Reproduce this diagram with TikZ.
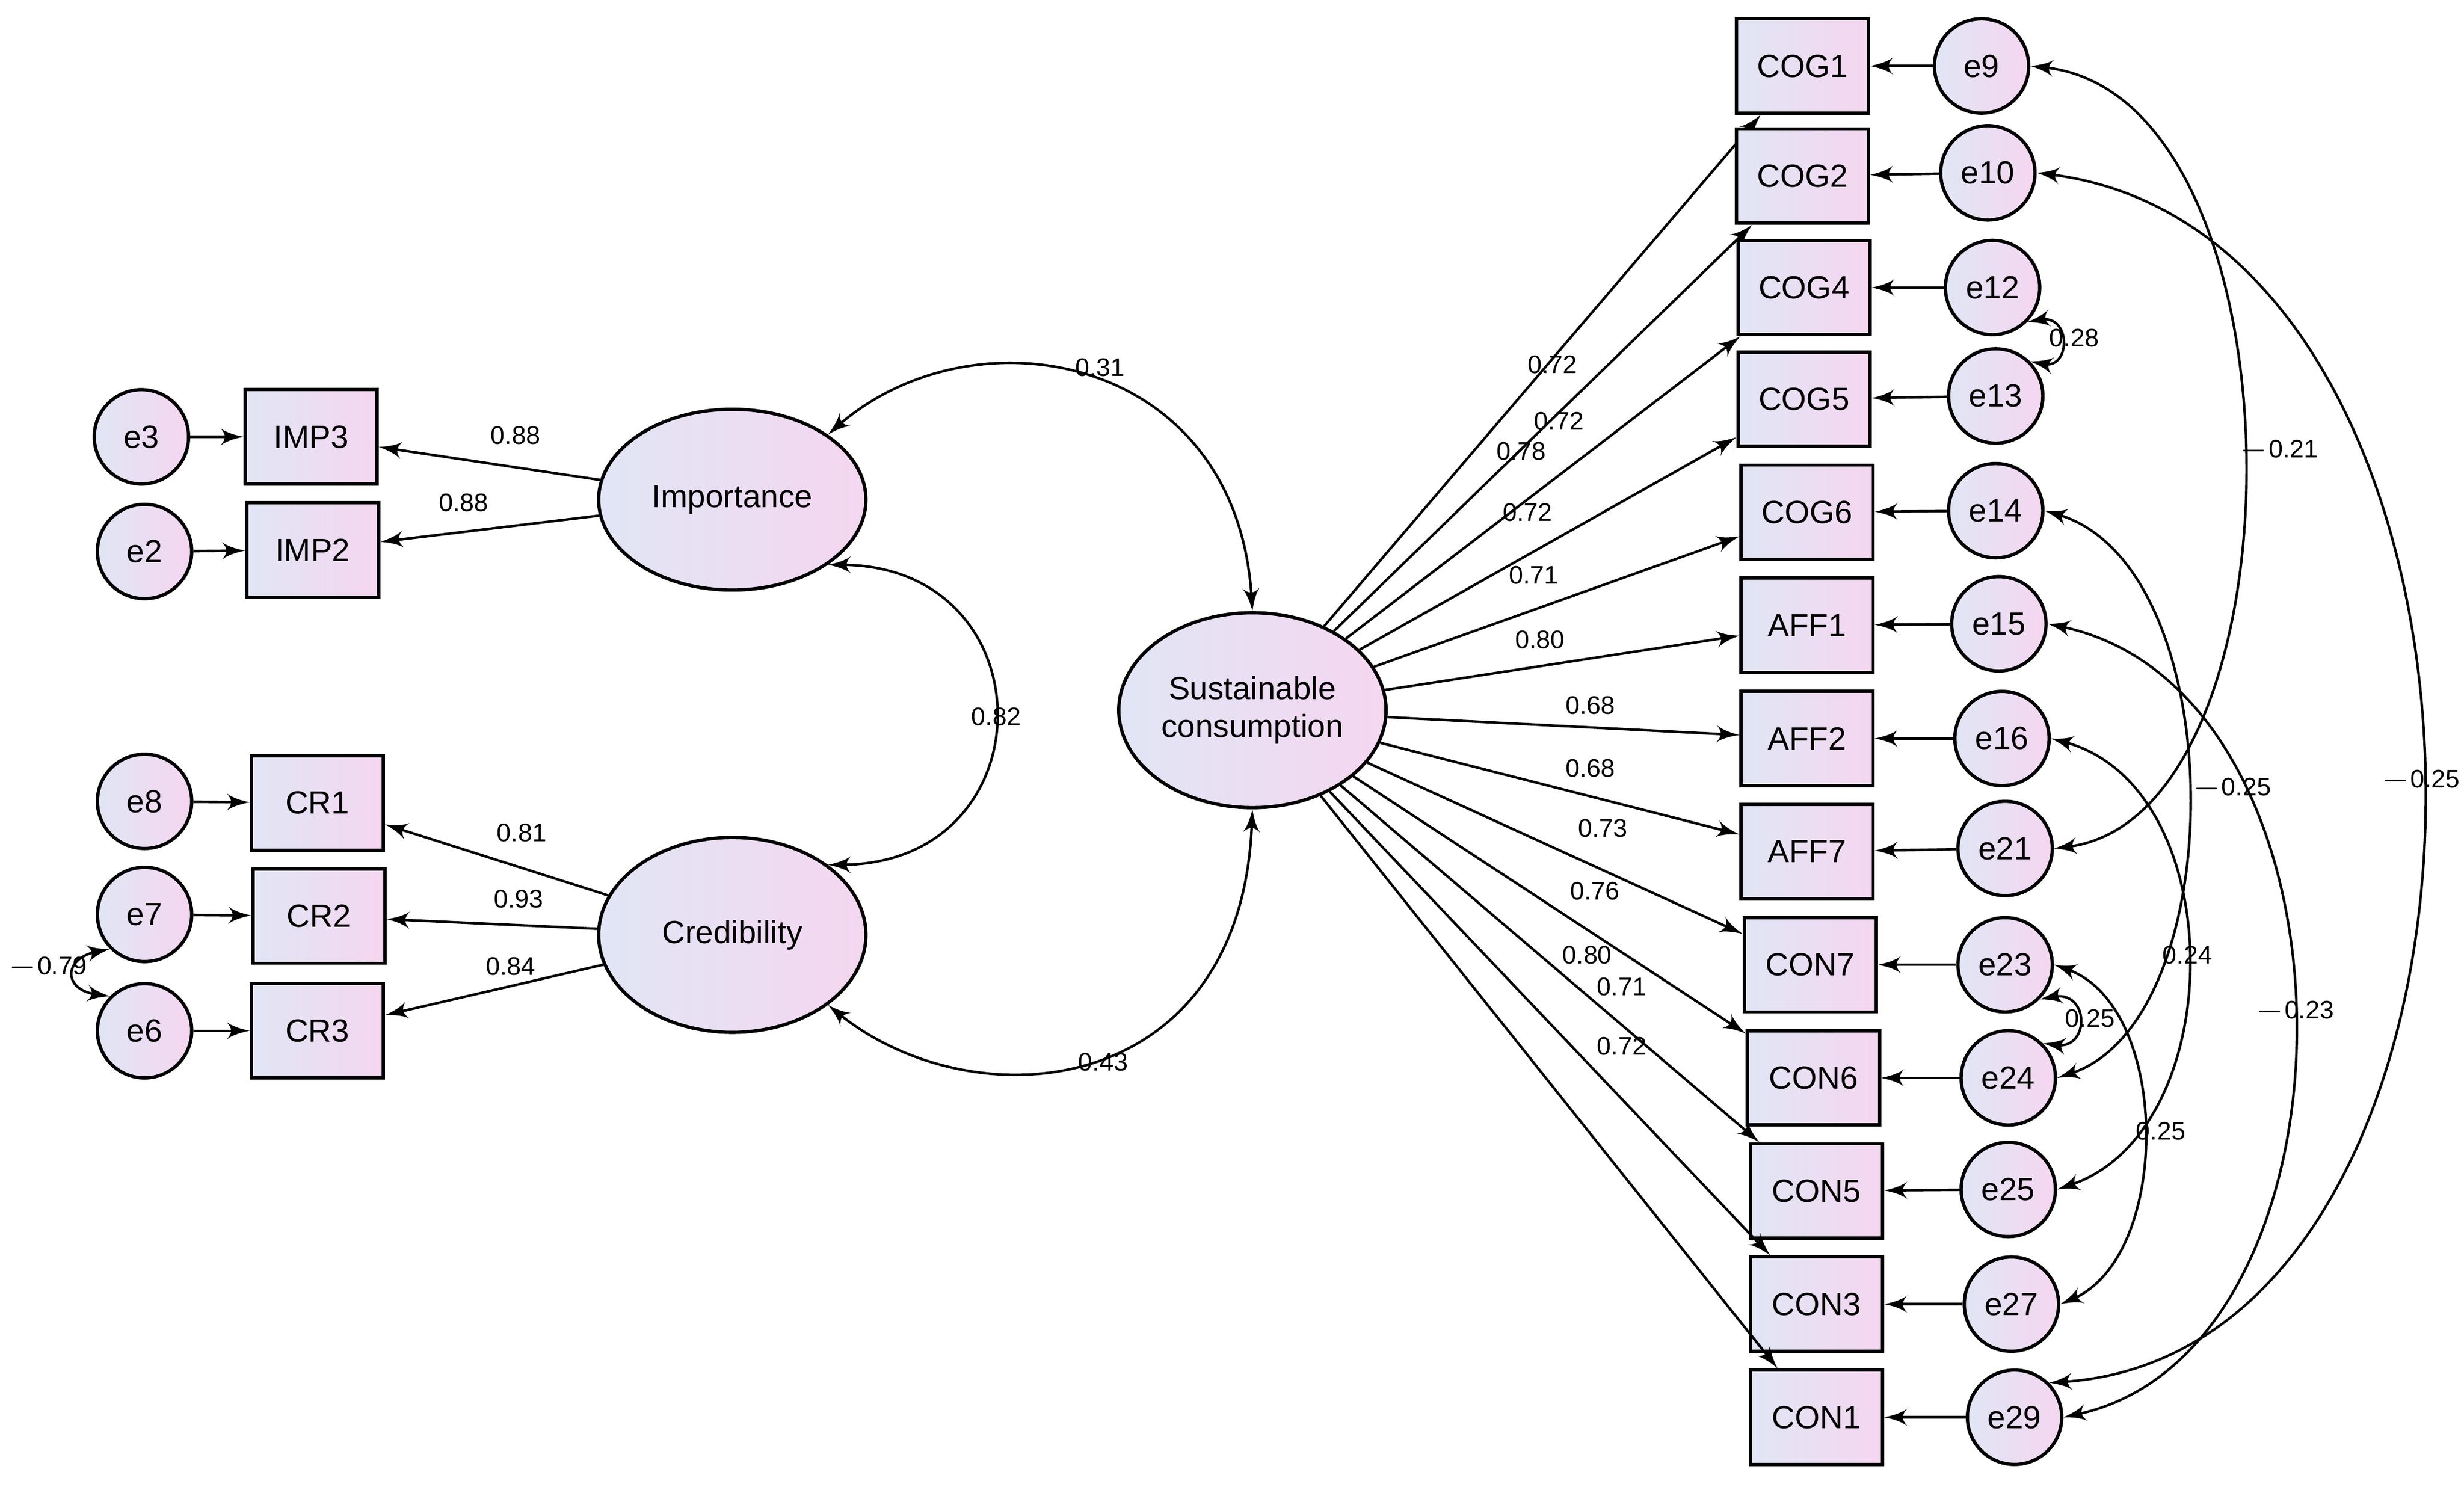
\documentclass[tikz,border=0pt]{standalone}
\usepackage{fontspec}
\setmainfont{Liberation Sans}
\usetikzlibrary{arrows,shapes.geometric}
\definecolor{leftc}{rgb}{0.88,0.90,0.96}
\definecolor{rightc}{rgb}{0.96,0.84,0.94}
\begin{document}
\begin{tikzpicture}[x=0.01cm,y=-0.01cm,>=latex',line width=0.45pt,
    obs/.style={rectangle,draw,line width=0.6pt,left color=leftc,right color=rightc,
      minimum width=0.84cm,minimum height=0.6cm,inner sep=0pt,font=\fontsize{5.8}{6}\selectfont},
    err/.style={circle,draw,line width=0.6pt,left color=leftc,right color=rightc,
      minimum width=0.54cm,minimum height=0.6cm,inner sep=0pt,font=\fontsize{5.8}{6}\selectfont},
    lat/.style={ellipse,draw,line width=0.6pt,left color=leftc,right color=rightc,
      minimum width=1.7cm,minimum height=1.15cm,inner sep=0pt,align=center,font=\fontsize{5.8}{6.8}\selectfont},
    lbl/.style={font=\fontsize{4.6}{5}\selectfont,inner sep=0pt}]
  \useasboundingbox (0,0) rectangle (1568,948);

  % latent variables
  \node[lat] (imp) at (466,318) {Importance};
  \node[lat,minimum height=1.24cm] (cred) at (466,595) {Credibility};
  \node[lat,minimum height=1.24cm] (sc) at (797,452) {Sustainable\\consumption};

  % left indicators
  \node[obs] (IMP3) at (198,278) {IMP3};
  \node[obs] (IMP2) at (199,350) {IMP2};
  \node[obs] (CR1) at (202,511) {CR1};
  \node[obs] (CR2) at (203,583) {CR2};
  \node[obs] (CR3) at (202,656) {CR3};
  \node[err] (e3) at (90,278) {e3};
  \node[err] (e2) at (92,351) {e2};
  \node[err] (e8) at (92,510) {e8};
  \node[err] (e7) at (92,582) {e7};
  \node[err] (e6) at (92,656) {e6};
  \foreach \e/\v in {e3/IMP3,e2/IMP2,e8/CR1,e7/CR2,e6/CR3}
    \draw[->] (\e) -- (\v);
  \draw[->] (imp) -- (IMP3);
  \draw[->] (imp) -- (IMP2);
  \draw[->] (cred) -- (CR1);
  \draw[->] (cred) -- (CR2);
  \draw[->] (cred) -- (CR3);
  \node[lbl] at (328,277) {0.88};
  \node[lbl] at (295,320) {0.88};
  \node[lbl] at (332,530) {0.81};
  \node[lbl] at (330,572) {0.93};
  \node[lbl] at (325,615) {0.84};
  \draw[<->] (e7.south west) .. controls (40,610) and (40,630) .. (e6.north west);
  \node[lbl] at (30,616) {$-$0.79};

  % latent covariances
  \draw[<->] (imp.north east) .. controls (620,195) and (787,225) .. (sc.north);
  \draw[<->] (imp.south east) .. controls (668,360) and (668,550) .. (cred.north east);
  \draw[<->] (cred.south east) .. controls (620,715) and (790,700) .. (sc.south);
  \node[lbl] at (700,234) {0.31};
  \node[lbl] at (634,456) {0.82};
  \node[lbl] at (702,676) {0.43};

  % right indicators
  \foreach \v/\x/\y/\e/\ex/\ey in {COG1/1147/42/e9/1261/42, COG2/1147/112/e10/1265/110,
      COG4/1148/183/e12/1268/183, COG5/1148/254/e13/1270/252, COG6/1150/326/e14/1270/325,
      AFF1/1150/398/e15/1272/397, AFF2/1150/470/e16/1274/470, AFF7/1150/542/e21/1276/540,
      CON7/1152/614/e23/1276/614, CON6/1154/686/e24/1278/686, CON5/1156/758/e25/1278/757,
      CON3/1156/830/e27/1280/830, CON1/1156/902/e29/1282/902}{
    \node[obs] (\v) at (\x,\y) {\v};
    \node[err] (\e) at (\ex,\ey) {\e};
    \draw[->] (\e) -- (\v);
    \draw[->] (sc) -- (\v);
  }
  \foreach \t/\x/\y in {0.72/988/232, 0.72/992/268, 0.78/968/287, 0.72/972/326,
      0.71/976/366, 0.80/980/407, 0.68/1012/449, 0.68/1012/489, 0.73/1020/527,
      0.76/1015/567, 0.80/1010/608, 0.71/1032/628, 0.72/1032/666}
    \node[lbl] at (\x,\y) {\t};

  % error covariances
  \draw[<->] (e12.south east) .. controls (1318,200) and (1318,235) .. (e13.north east);
  \draw[<->] (e23.south east) .. controls (1330,630) and (1330,668) .. (e24.north east);
  \draw[<->] (e9.east) .. controls (1470,60) and (1470,520) .. (e21.east);
  \draw[<->] (e10.east) .. controls (1622,150) and (1622,860) .. (e29.north east);
  \draw[<->] (e14.east) .. controls (1421,360) and (1421,650) .. (e24.east);
  \draw[<->] (e15.east) .. controls (1510,440) and (1510,860) .. (e29.east);
  \draw[<->] (e16.east) .. controls (1420,500) and (1420,720) .. (e25.east);
  \draw[<->] (e23.east) .. controls (1382,640) and (1382,800) .. (e27.east);
  \node[lbl] at (1320,215) {0.28};
  \node[lbl] at (1450,287) {$-$0.21};
  \node[lbl] at (1420,502) {$-$0.25};
  \node[lbl] at (1540,497) {$-$0.25};
  \node[lbl] at (1392,608) {0.24};
  \node[lbl] at (1460,644) {$-$0.23};
  \node[lbl] at (1330,648) {0.25};
  \node[lbl] at (1375,720) {0.25};
\end{tikzpicture}
\end{document}
